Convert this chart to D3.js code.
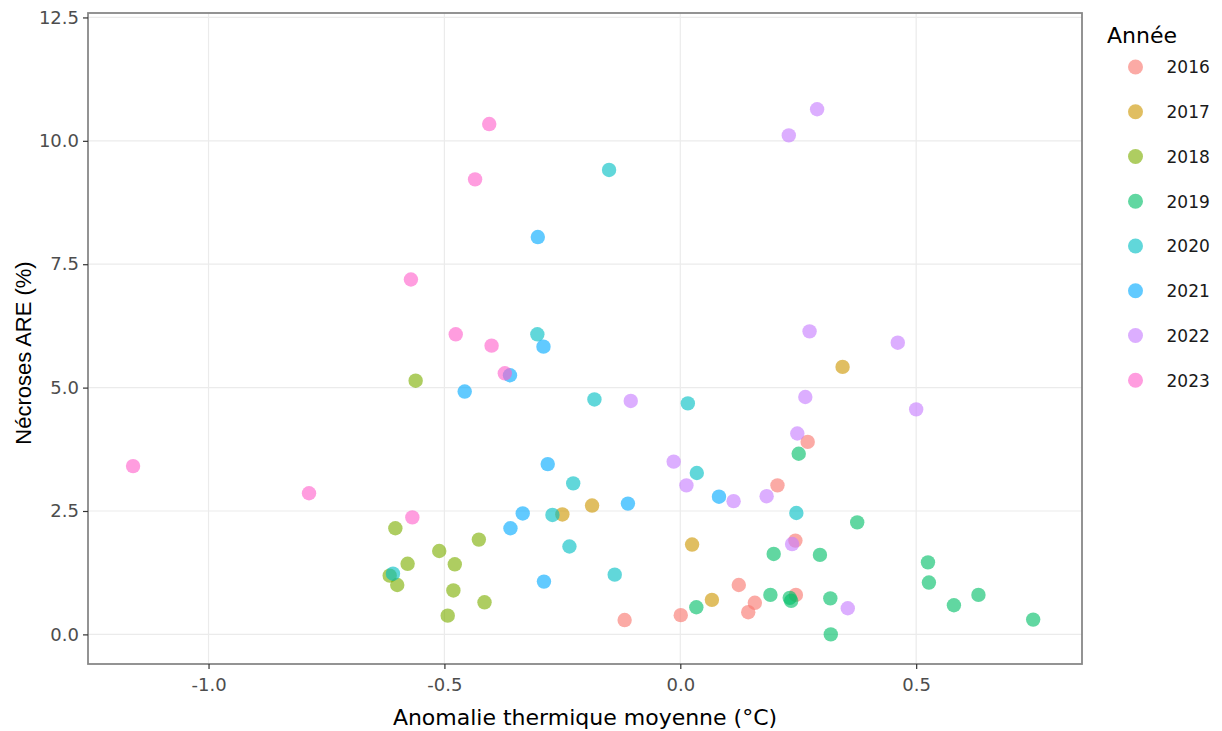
<!DOCTYPE html>
<html>
<head>
<meta charset="utf-8">
<script src="https://cdn.jsdelivr.net/npm/d3@7"></script>
<style>
  body { margin: 0; background: #fff; }
  svg { font-family: "DejaVu Sans", Verdana, sans-serif; }
</style>
</head>
<body>
<svg id="chart" width="1222" height="731"></svg>
<script>
// valeurs : [anomalie °C, nécroses %]
const years = ["2016", "2017", "2018", "2019", "2020", "2021", "2022", "2023"];
const colors = ["#F8766D", "#CD9600", "#7CAE00", "#00BE67", "#00BFC4", "#00A9FF", "#C77CFF", "#FF61CC"];

const pts2016 = [[0.270, 3.90], [0.206, 3.02], [0.244, 1.90], [0.124, 1.00], [0.245, 0.80], [0.158, 0.64], [0.144, 0.45], [0.001, 0.39], [-0.118, 0.29]];
const pts2017 = [[0.344, 5.42], [-0.187, 2.61], [-0.250, 2.43], [0.025, 1.82], [0.067, 0.70]];
const pts2018 = [[-0.561, 5.14], [-0.604, 2.15], [-0.427, 1.92], [-0.511, 1.69], [-0.578, 1.43], [-0.478, 1.42], [-0.616, 1.19], [-0.600, 1.00], [-0.481, 0.89], [-0.415, 0.65], [-0.493, 0.38]];
const pts2019 = [[0.251, 3.66], [0.375, 2.27], [0.198, 1.63], [0.296, 1.61], [0.525, 1.46], [0.527, 1.05], [0.191, 0.80], [0.232, 0.74], [0.235, 0.68], [0.318, 0.73], [0.632, 0.80], [0.580, 0.59], [0.034, 0.55], [0.748, 0.30], [0.319, 0.00]];
const pts2020 = [[-0.151, 9.41], [-0.303, 6.08], [-0.182, 4.76], [0.016, 4.68], [0.035, 3.27], [-0.227, 3.06], [-0.271, 2.42], [0.246, 2.46], [-0.235, 1.78], [-0.139, 1.21], [-0.609, 1.23]];
const pts2021 = [[-0.302, 8.05], [-0.290, 5.83], [-0.361, 5.25], [-0.457, 4.92], [-0.281, 3.45], [-0.111, 2.65], [0.082, 2.79], [-0.334, 2.45], [-0.360, 2.15], [-0.289, 1.07]];
const pts2022 = [[0.290, 10.64], [0.230, 10.11], [0.274, 6.14], [0.461, 5.91], [0.265, 4.81], [0.500, 4.56], [-0.105, 4.73], [0.248, 4.07], [-0.014, 3.50], [0.013, 3.02], [0.113, 2.70], [0.183, 2.80], [0.237, 1.83], [0.355, 0.53]];
const pts2023 = [[-0.405, 10.34], [-0.435, 9.22], [-0.571, 7.19], [-0.476, 6.08], [-0.400, 5.85], [-0.372, 5.29], [-1.160, 3.41], [-0.787, 2.86], [-0.568, 2.37]];

const xTicks = [-1.0, -0.5, 0.0, 0.5];
const yTicks = [0, 2.5, 5, 7.5, 10, 12.5];

const series = [pts2016, pts2017, pts2018, pts2019, pts2020, pts2021, pts2022, pts2023];
const data = series.flatMap((pts, i) => pts.map(([x, y]) => ({ x, y, year: years[i] })));

const svg = d3.select("#chart");
const plotLeft = 88, plotRight = 1082, plotTop = 13, plotBottom = 664;

const x = d3.scaleLinear().domain([-1.2555, 0.8515]).range([plotLeft, plotRight]);
const y = d3.scaleLinear().domain([-0.60, 12.59]).range([plotBottom, plotTop]);
const color = d3.scaleOrdinal().domain(years).range(colors);

// tiret simple comme dans l'original
const fmt = d => d3.format(".1f")(d).replace("−", "-");

// grille
svg.append("g")
  .selectAll("line")
  .data(xTicks)
  .join("line")
  .attr("x1", d => x(d)).attr("x2", d => x(d))
  .attr("y1", plotTop).attr("y2", plotBottom)
  .attr("stroke", "#ebebeb").attr("stroke-width", 1.2);

svg.append("g")
  .selectAll("line")
  .data(yTicks)
  .join("line")
  .attr("y1", d => y(d)).attr("y2", d => y(d))
  .attr("x1", plotLeft).attr("x2", plotRight)
  .attr("stroke", "#ebebeb").attr("stroke-width", 1.2);

// points
svg.append("g")
  .selectAll("circle")
  .data(data)
  .join("circle")
  .attr("cx", d => x(d.x))
  .attr("cy", d => y(d.y))
  .attr("r", 7.2)
  .attr("fill", d => color(d.year))
  .attr("fill-opacity", 0.62);

// cadre
svg.append("rect")
  .attr("x", plotLeft).attr("y", plotTop)
  .attr("width", plotRight - plotLeft).attr("height", plotBottom - plotTop)
  .attr("fill", "none").attr("stroke", "#888").attr("stroke-width", 1.8);

// axes
const xAxis = svg.append("g")
  .attr("transform", `translate(0,${plotBottom})`)
  .call(d3.axisBottom(x).tickValues(xTicks).tickFormat(fmt).tickSize(5).tickPadding(9));
const yAxis = svg.append("g")
  .attr("transform", `translate(${plotLeft},0)`)
  .call(d3.axisLeft(y).tickValues(yTicks).tickFormat(fmt).tickSize(5).tickPadding(4));

[xAxis, yAxis].forEach(a => {
  a.select(".domain").remove();
  a.selectAll(".tick line").attr("stroke", "#333").attr("stroke-width", 1.2);
  a.selectAll(".tick text").attr("fill", "#4d4d4d").attr("font-size", 18)
    .attr("font-family", "\"DejaVu Sans\", Verdana, sans-serif");
});

// titres d'axes
svg.append("text")
  .attr("x", (plotLeft + plotRight) / 2)
  .attr("y", 725)
  .attr("text-anchor", "middle")
  .attr("font-size", 22)
  .attr("fill", "#000")
  .text("Anomalie thermique moyenne (°C)");

svg.append("text")
  .attr("transform", "translate(31,353) rotate(-90)")
  .attr("text-anchor", "middle")
  .attr("font-family", "\"Liberation Sans\", Arial, sans-serif")
  .attr("font-size", 22)
  .attr("fill", "#000")
  .text("Nécroses ARE (%)");

// légende
const legend = svg.append("g").attr("transform", "translate(1107,0)");
legend.append("text")
  .attr("x", 0).attr("y", 43)
  .attr("font-size", 22)
  .attr("fill", "#000")
  .text("Année");

const item = legend.selectAll("g.item")
  .data(years)
  .join("g")
  .attr("class", "item")
  .attr("transform", (d, i) => `translate(0,${67 + i * 44.75})`);

item.append("circle")
  .attr("cx", 28.5).attr("cy", 0).attr("r", 7.5)
  .attr("fill", d => color(d)).attr("fill-opacity", 0.62);

item.append("text")
  .attr("x", 59.5).attr("y", 0)
  .attr("dy", "0.37em")
  .attr("font-size", 17)
  .attr("fill", "#1a1a1a")
  .text(d => d);
</script>
</body>
</html>
